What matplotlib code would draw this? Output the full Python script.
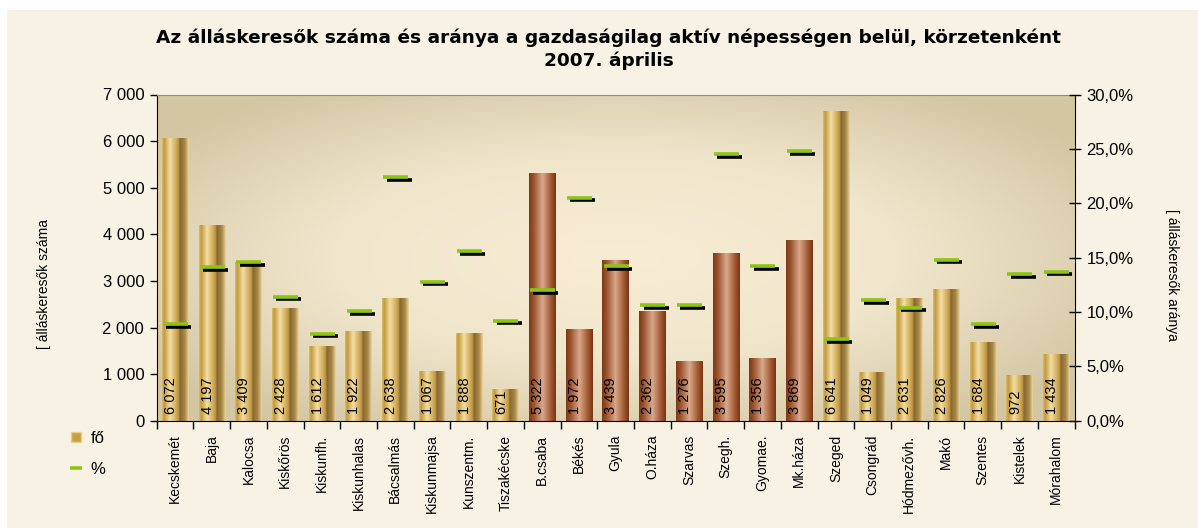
import numpy as np
import matplotlib
matplotlib.use("Agg")
import matplotlib.pyplot as plt
import matplotlib.transforms as transforms
from matplotlib.colors import LinearSegmentedColormap
from matplotlib.patches import Rectangle
from matplotlib.ticker import FuncFormatter, MultipleLocator
from matplotlib.lines import Line2D

plt.rcParams['font.family'] = ['Liberation Sans', 'DejaVu Sans']

# ----------------------------
# Data
# ----------------------------
districts = ["Kecskemét", "Baja", "Kalocsa", "Kiskőrös", "Kiskunfh.", "Kiskunhalas",
             "Bácsalmás", "Kiskunmajsa", "Kunszentm.", "Tiszakécske", "B.csaba",
             "Békés", "Gyula", "O.háza", "Szarvas", "Szegh.", "Gyomae.", "Mk.háza",
             "Szeged", "Csongrád", "Hódmezővh.", "Makó", "Szentes", "Kistelek",
             "Mórahalom"]
jobseekers = [6072, 4197, 3409, 2428, 1612, 1922, 2638, 1067, 1888, 671, 5322,
              1972, 3439, 2362, 1276, 3595, 1356, 3869, 6641, 1049, 2631, 2826,
              1684, 972, 1434]
rate = [8.9, 14.1, 14.6, 11.4, 8.0, 10.1, 22.4, 12.8, 15.6, 9.2, 12.0, 20.5,
        14.2, 10.6, 10.6, 24.5, 14.2, 24.8, 7.5, 11.1, 10.4, 14.8, 8.9, 13.5, 13.7]
county = ["Bács"] * 10 + ["Békés"] * 8 + ["Csongrád"] * 7

title = ("Az álláskeresők száma és aránya a gazdaságilag aktív népességen belül, körzetenként\n"
         "2007. április")

# ----------------------------
# Colours
# ----------------------------
gold = LinearSegmentedColormap.from_list("gold", [
    (0.0, "#DCBD6C"), (0.08, "#C29A3D"), (0.30, "#F3DEA3"), (0.55, "#CEA652"),
    (0.64, "#B08A40"), (0.655, "#86662C"), (0.85, "#A98948"), (1.0, "#EDD69D")])
brown = LinearSegmentedColormap.from_list("brown", [
    (0.0, "#7C3816"), (0.18, "#9C5530"), (0.5, "#D8A98B"), (0.8, "#A45C36"),
    (1.0, "#783313")])
bg_cmap = LinearSegmentedColormap.from_list("bg", ["#F8EDD4", "#F0E6CC", "#D3C6A3"])

fig = plt.figure(figsize=(11.98, 5.31), dpi=100, facecolor="white")
fig.patches.append(Rectangle((7 / 1198, 3 / 531), 1 - 7 / 1198, 1 - 13 / 531,
                             transform=fig.transFigure, facecolor="#F8F2E5",
                             edgecolor="none", zorder=-10))

ax = fig.add_axes([156.7 / 1198, 110.3 / 531, (1074.5 - 156.7) / 1198, (420.7 - 94.5) / 531])
ax.patch.set_visible(False)

# plot area background: soft radial gradient
yy, xx = np.mgrid[0:1:200j, 0:1:300j]
r = np.sqrt(((xx - 0.5) / 0.62) ** 2 + ((yy - 0.5) / 0.62) ** 2)
ax.imshow(np.clip(r, 0, 1), cmap=bg_cmap, extent=(0, 1, 0, 1), transform=ax.transAxes,
          aspect="auto", zorder=0, origin="lower")

x = np.arange(len(districts))
bars = ax.bar(x, jobseekers, width=0.72, color="none", edgecolor="none", zorder=2)
grad = np.linspace(0, 1, 256).reshape(1, -1)
for b, c in zip(bars, county):
    x0, w, h = b.get_x(), b.get_width(), b.get_height()
    im = ax.imshow(grad, cmap=brown if c == "Békés" else gold, aspect="auto",
                   extent=(x0, x0 + w, 0, h), zorder=2)
    im.set_clip_path(b)

for xi, v in zip(x, jobseekers):
    ax.annotate(f"{v:,}".replace(",", " "), (xi, 0), xytext=(-3, 5),
                textcoords="offset points", rotation=90, ha="center", va="bottom",
                fontsize=10.5, color="black", zorder=4)

ax.set_xlim(-0.5, len(districts) - 0.5)
ax.set_ylim(0, 7000)
ax.yaxis.set_major_locator(MultipleLocator(1000))
ax.yaxis.set_major_formatter(FuncFormatter(lambda v, p: f"{int(v):,}".replace(",", " ")))
ax.set_xticks(x)
ax.set_xticklabels(districts, rotation=90, fontsize=10)
ax.set_xticks(np.arange(-0.5, len(districts)), minor=True)
ax.tick_params(axis="x", which="major", length=0, pad=10)
ax.tick_params(axis="x", which="minor", length=6, direction="out", width=1)
ax.tick_params(axis="y", labelsize=12, length=5, direction="out", width=1, pad=4)
ax.set_ylabel("[ álláskeresők száma", fontsize=10)
ax.yaxis.set_label_coords(-0.115, 0.42)
for s in ["left", "bottom"]:
    ax.spines[s].set_color("black")
ax.spines["top"].set_color("#8C8C8C")
ax.spines["right"].set_visible(False)

# right axis: rate
ax2 = ax.twinx()
ax2.set_ylim(0, 30)
shadow = transforms.offset_copy(ax2.transData, fig=fig, x=3.3, y=-2.7, units="dots")
ax2.plot(x, rate, linestyle="none", marker="_", markersize=18, markeredgewidth=2.6,
         color="black", transform=shadow, zorder=5)
ax2.plot(x, rate, linestyle="none", marker="_", markersize=18, markeredgewidth=2.6,
         color="#8CC414", zorder=6)
ax2.yaxis.set_major_locator(MultipleLocator(5))
ax2.yaxis.set_major_formatter(FuncFormatter(lambda v, p: f"{v:.1f}%".replace(".", ",")))
ax2.tick_params(axis="y", labelsize=12, length=9, direction="inout", width=1, pad=4)
ax2.set_ylabel("[ álláskeresők aránya", fontsize=10, rotation=-90)
ax2.yaxis.set_label_coords(1.114, 0.447)
for s in ["left", "bottom", "top"]:
    ax2.spines[s].set_visible(False)
ax2.spines["right"].set_color("black")

fig.text(0.508, 0.908, title, ha="center", va="center", fontsize=13.3,
         fontweight="bold", linespacing=1.3, family="DejaVu Sans")

# legend
handles = [Line2D([], [], linestyle="none", marker="s", markersize=7,
                  markerfacecolor="#C9A048", markeredgecolor="#E8CF8A"),
           Line2D([], [], linestyle="none", marker="_", markersize=9,
                  markeredgewidth=2.6, color="#8CC414")]
fig.legend(handles, ["fő", "%"], loc="upper left", bbox_to_anchor=(54 / 1198, 1 - 416 / 531),
           frameon=False, fontsize=12, handlelength=0.8, handletextpad=0.5,
           labelspacing=0.95)

fig.savefig("out.png", dpi=100, facecolor=fig.get_facecolor())
